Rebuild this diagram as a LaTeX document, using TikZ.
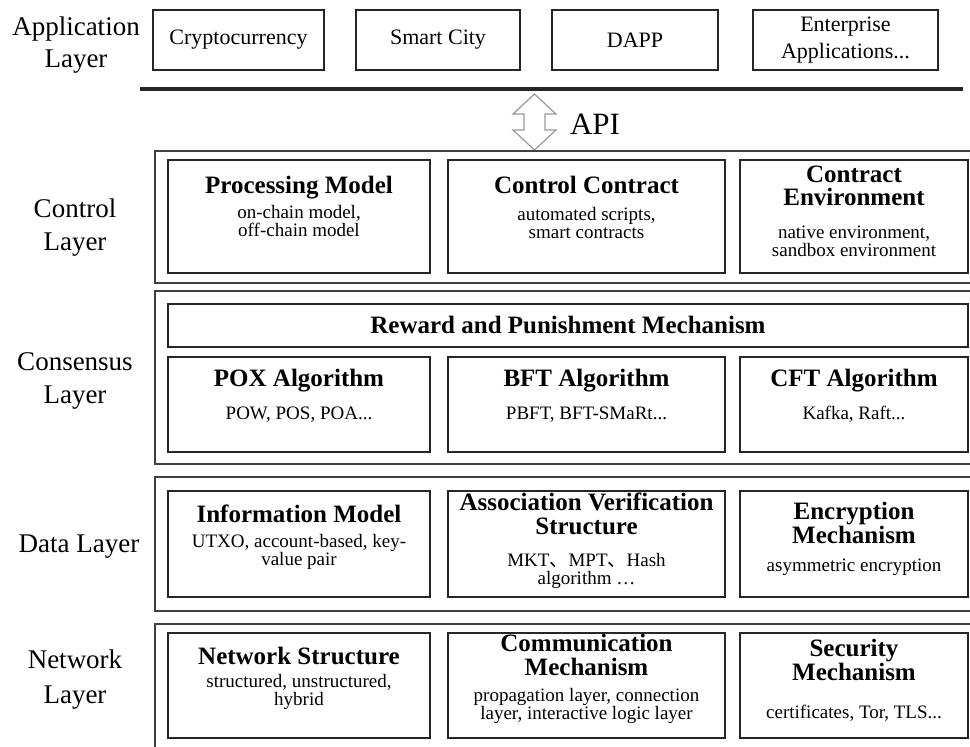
\documentclass[tikz,border=0pt]{standalone}
\usepackage{fontspec}
\setmainfont{Liberation Serif}
\newfontfamily\cjk{Noto Sans CJK SC}

\begin{document}
\begin{tikzpicture}[x=1pt,y=-1pt]
	\tikzstyle{every node}=[inner sep=0pt, anchor=base]
	\tikzstyle{layerbox}=[draw=black!75, line width=2pt, rectangle, anchor=center]
	\tikzstyle{itembox}=[draw=black!85, line width=1.3pt, rectangle, anchor=center]
	\tikzstyle{lab}=[font=\fontsize{27}{27}\selectfont]
	\tikzstyle{app}=[font=\fontsize{22}{27}\selectfont, align=center]
	\tikzstyle{head}=[font=\fontsize{25}{25}\selectfont\bfseries]
	\tikzstyle{sub}=[font=\fontsize{19}{19}\selectfont]
	\clip (0,0) rectangle (970,747);
	% application layer
	\draw (76,35) node (appL1) [lab] {Application};
	\draw (76,67) node (appL2) [lab] {Layer};
	\draw (238.5,40) node (crypto) [itembox, app, minimum width=171, minimum height=60] {Cryptocurrency};
	\draw (438,40) node (city) [itembox, app, minimum width=164, minimum height=60] {Smart City};
	\draw (635,40) node (dapp) [itembox, app, minimum width=166, minimum height=60] {DAPP};
	\draw (845.5,40) node (ent) [itembox, app, minimum width=185, minimum height=60] {Enterprise\\Applications...};
	\draw[line width=3.5pt, black!85] (140,89) -- (963,89);
	\draw[draw=black!40, line width=1.2pt, fill=white] (534.5,94) -- (556,114) -- (545,114) -- (545,130) -- (556,130) -- (534.5,150) -- (513,130) -- (524,130) -- (524,114) -- (513,114) -- cycle;
	\draw (595,134) node (api) [font=\fontsize{31}{31}\selectfont] {API};
	% control layer
	\draw (75,217) node (ctlL1) [lab] {Control};
	\draw (75,250) node (ctlL2) [lab] {Layer};
	\draw (572.5,217) node (ctl) [layerbox, minimum width=835, minimum height=132] {};
	\draw (299,216.5) node (pm) [itembox, minimum width=262, minimum height=113] {};
	\draw (586.5,216.5) node (cc) [itembox, minimum width=277, minimum height=113] {};
	\draw (854,216.5) node (ce) [itembox, minimum width=228, minimum height=113] {};
	\draw (299,193) node (pmT) [head] {Processing Model};
	\draw (299,218) node (pmS1) [sub] {on-chain model,};
	\draw (299,236) node (pmS2) [sub] {off-chain model};
	\draw (586.5,193) node (ccT) [head] {Control Contract};
	\draw (586.5,220) node (ccS1) [sub] {automated scripts,};
	\draw (586.5,238) node (ccS2) [sub] {smart contracts};
	\draw (854,182) node (ceT1) [head] {Contract};
	\draw (854,205) node (ceT2) [head] {Environment};
	\draw (854,238) node (ceS1) [sub] {native environment,};
	\draw (854,256) node (ceS2) [sub] {sandbox environment};
	% consensus layer
	\draw (75,370) node (conL1) [lab] {Consensus};
	\draw (75,403) node (conL2) [lab] {Layer};
	\draw (572.5,377.5) node (con) [layerbox, minimum width=835, minimum height=173] {};
	\draw (568,325.5) node (rp) [itembox, minimum width=800, minimum height=43] {};
	\draw (299,404.5) node (pox) [itembox, minimum width=262, minimum height=95] {};
	\draw (586.5,404.5) node (bft) [itembox, minimum width=277, minimum height=95] {};
	\draw (854,404.5) node (cft) [itembox, minimum width=228, minimum height=95] {};
	\draw (568,333) node (rpT) [head] {Reward and Punishment Mechanism};
	\draw (299,386) node (poxT) [head] {POX Algorithm};
	\draw (299,419) node (poxS) [sub] {POW, POS, POA...};
	\draw (586.5,386) node (bftT) [head] {BFT Algorithm};
	\draw (586.5,419) node (bftS) [sub] {PBFT, BFT-SMaRt...};
	\draw (854,386) node (cftT) [head] {CFT Algorithm};
	\draw (854,419) node (cftS) [sub] {Kafka, Raft...};
	% data layer
	\draw (79,552) node (datL) [lab] {Data Layer};
	\draw (572.5,544) node (dat) [layerbox, minimum width=835, minimum height=134] {};
	\draw (299,544) node (im) [itembox, minimum width=262, minimum height=106] {};
	\draw (586.5,544) node (avs) [itembox, minimum width=277, minimum height=106] {};
	\draw (854,544) node (enc) [itembox, minimum width=228, minimum height=106] {};
	\draw (299,522) node (imT) [head] {Information Model};
	\draw (299,547) node (imS1) [sub] {UTXO, account-based, key-};
	\draw (299,565) node (imS2) [sub] {value pair};
	\draw (586.5,510) node (avsT1) [head] {Association Verification};
	\draw (586.5,534) node (avsT2) [head] {Structure};
	\draw (586.5,566) node (avsS1) [sub] {MKT{\cjk 、}MPT{\cjk 、}Hash};
	\draw (586.5,584) node (avsS2) [sub] {algorithm …};
	\draw (854,519) node (encT1) [head] {Encryption};
	\draw (854,543) node (encT2) [head] {Mechanism};
	\draw (854,571) node (encS) [sub] {asymmetric encryption};
	% network layer
	\draw (75,668) node (netL1) [lab] {Network};
	\draw (75,703) node (netL2) [lab] {Layer};
	\draw (572.5,712) node (net) [layerbox, minimum width=835, minimum height=176] {};
	\draw (299,685.5) node (ns) [itembox, minimum width=262, minimum height=105] {};
	\draw (586.5,685.5) node (cm) [itembox, minimum width=277, minimum height=105] {};
	\draw (854,685.5) node (sm) [itembox, minimum width=228, minimum height=105] {};
	\draw (299,664) node (nsT) [head] {Network Structure};
	\draw (299,687) node (nsS1) [sub] {structured, unstructured,};
	\draw (299,705) node (nsS2) [sub] {hybrid};
	\draw (586.5,651) node (cmT1) [head] {Communication};
	\draw (586.5,675) node (cmT2) [head] {Mechanism};
	\draw (586.5,701) node (cmS1) [sub] {propagation layer, connection};
	\draw (586.5,719) node (cmS2) [sub] {layer, interactive logic layer};
	\draw (854,656) node (smT1) [head] {Security};
	\draw (854,680) node (smT2) [head] {Mechanism};
	\draw (854,718) node (smS) [sub] {certificates, Tor, TLS...};
\end{tikzpicture}
\end{document}
